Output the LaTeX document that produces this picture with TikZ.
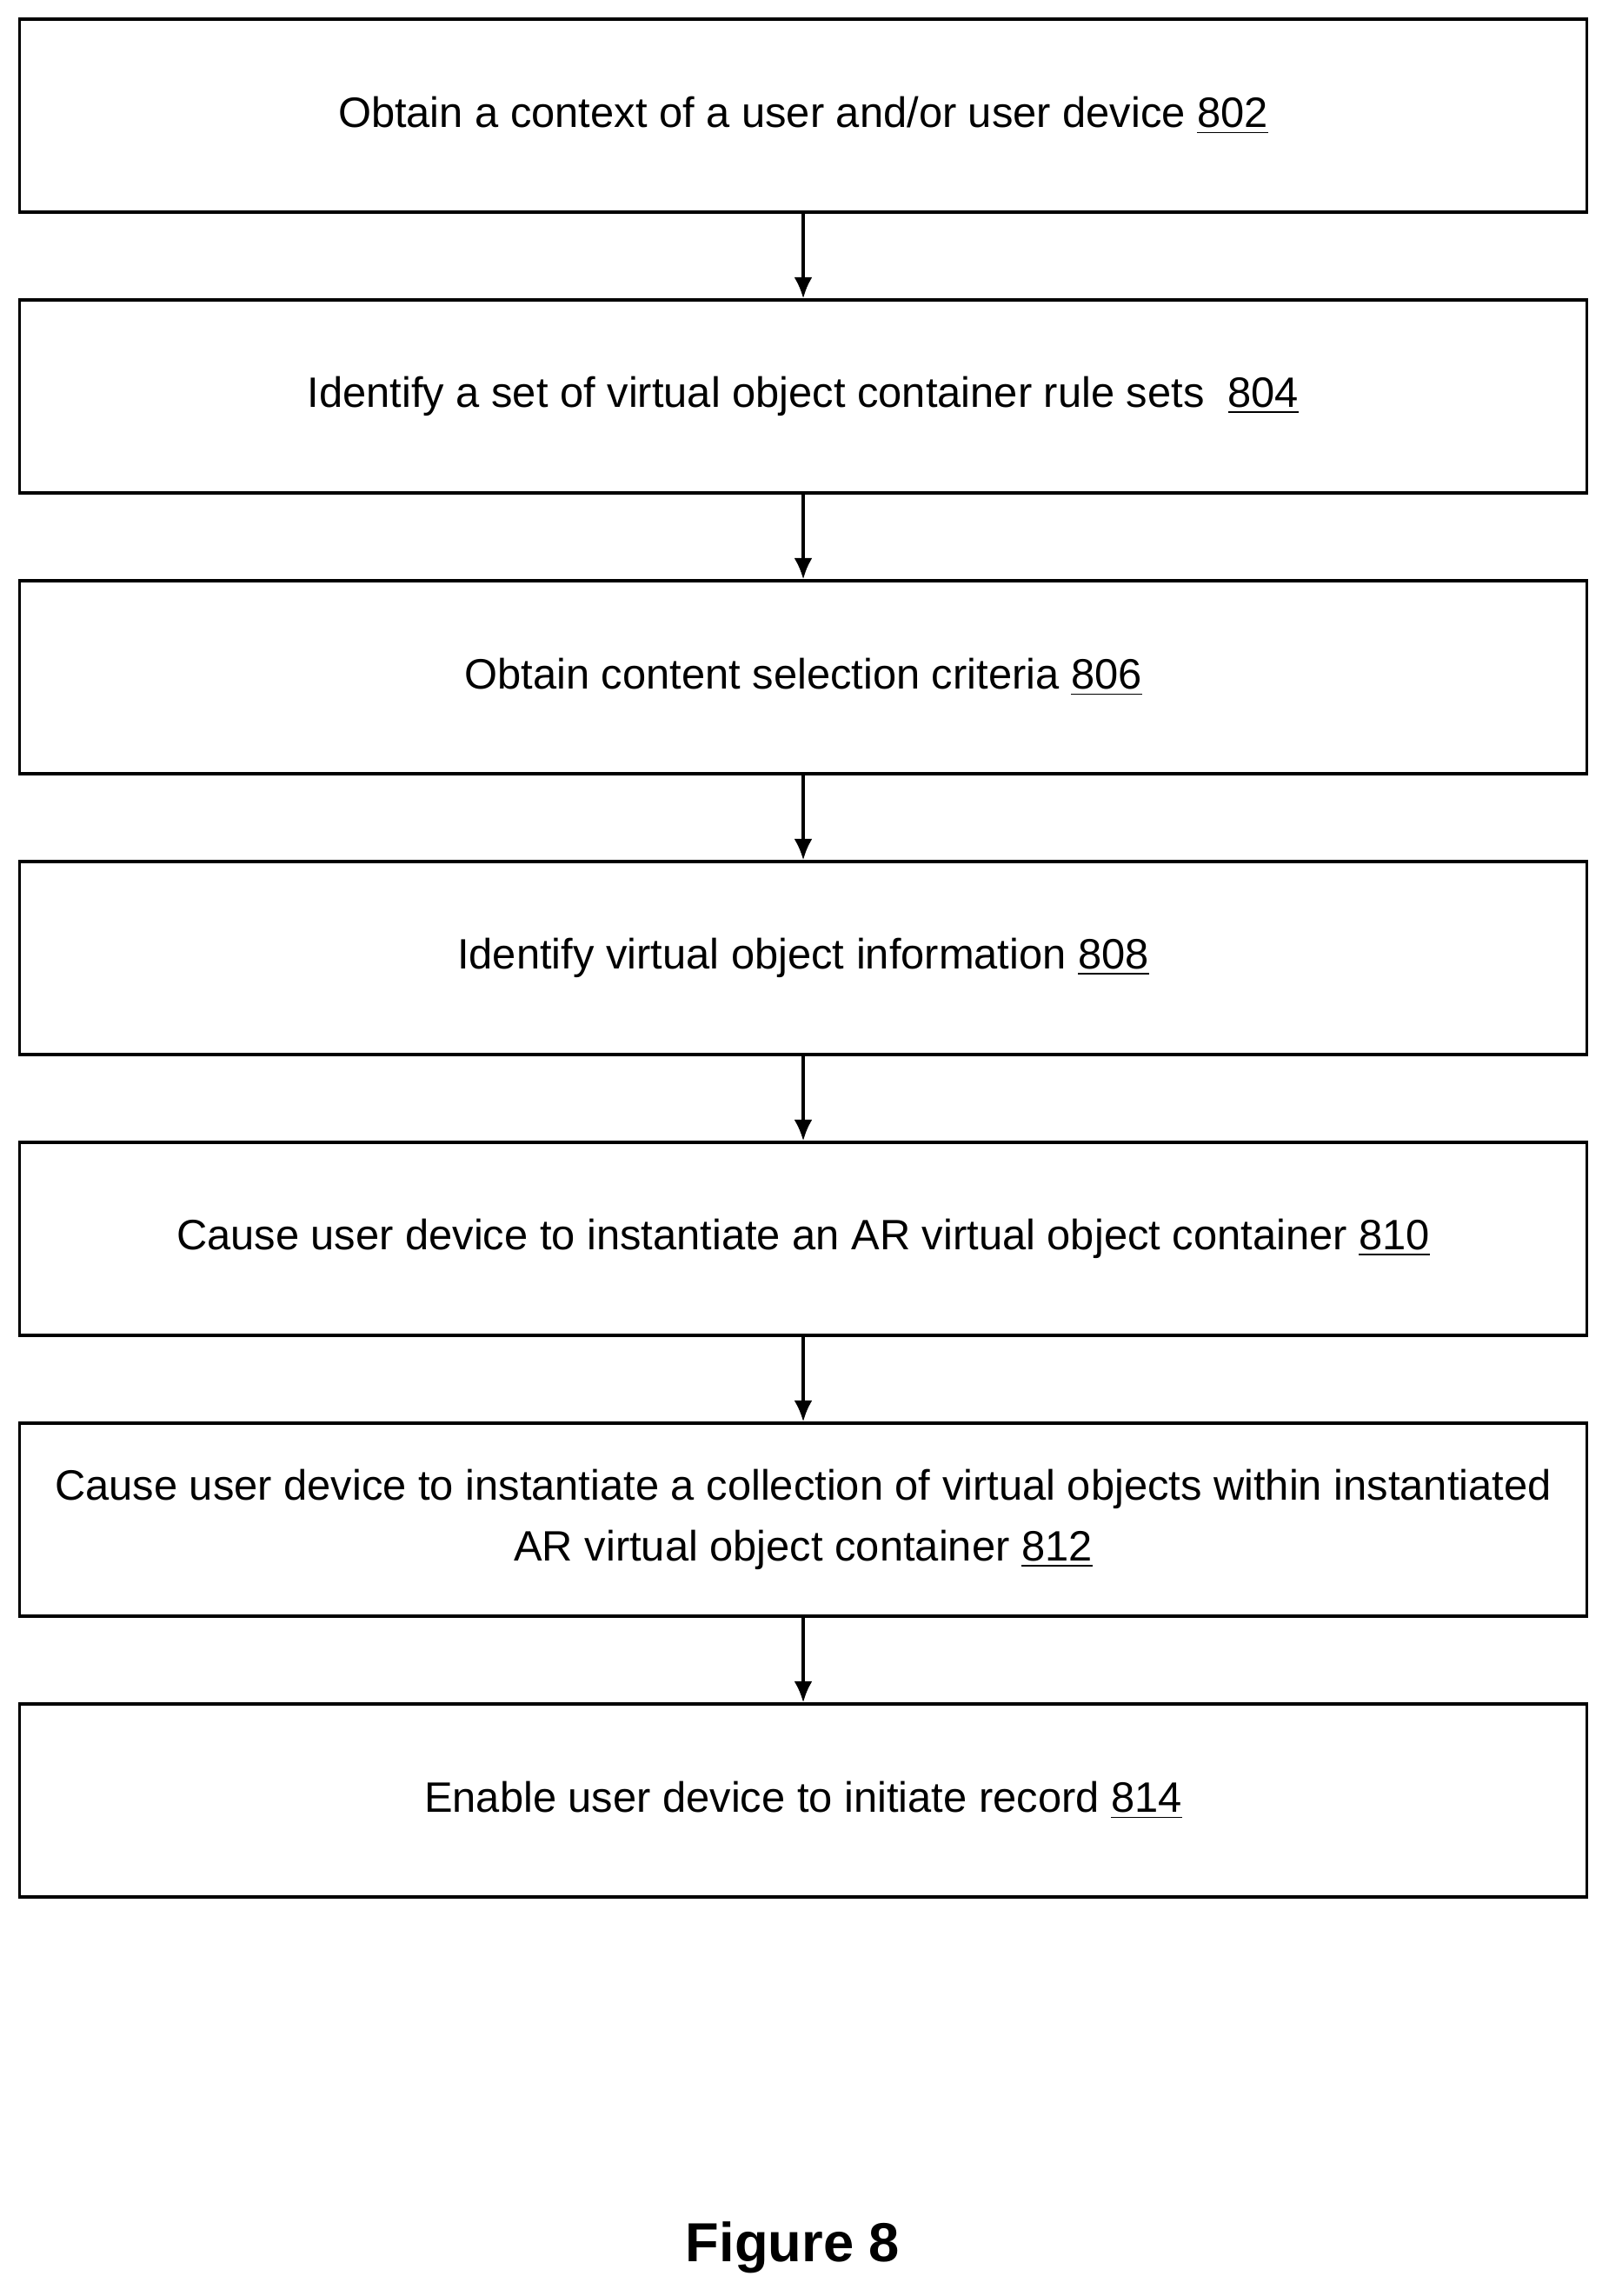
\documentclass[tikz,border=0pt]{standalone}
\usepackage{fontspec}
\setmainfont{Liberation Sans}
\usetikzlibrary{positioning,arrows.meta}
\begin{document}
\begin{tikzpicture}
	\tikzset{etape/.style={draw=black, line width=0.9pt, minimum width=18.03cm, minimum height=2.22cm, align=center, font=\fontsize{13.9}{20}\selectfont, inner sep=0pt}, fleche/.style={-{Latex[length=7pt,width=6pt]}, line width=1.1pt}};
	\useasboundingbox (0,0) rectangle (18.5,-26.41);

	\node[etape] (e802) at (9.24,-1.33) {Obtain a context of a user and/or user device \underline{802}};
	\node[etape] (e804) at (9.24,-4.56) {Identify a set of virtual object container rule sets~~\underline{804}};
	\node[etape] (e806) at (9.24,-7.79) {Obtain content selection criteria \underline{806}};
	\node[etape] (e808) at (9.24,-11.02) {Identify virtual object information \underline{808}};
	\node[etape] (e810) at (9.24,-14.25) {Cause user device to instantiate an AR virtual object container \underline{810}};
	\node[etape] (e812) at (9.24,-17.48) {Cause user device to instantiate a collection of virtual objects within instantiated\\AR virtual object container \underline{812}};
	\node[etape] (e814) at (9.24,-20.71) {Enable user device to initiate record \underline{814}};

	\node[font=\fontsize{18}{20}\selectfont\bfseries] (titre) at (9.12,-25.85) {Figure 8};

	\draw[fleche] (e802) -- (e804);
	\draw[fleche] (e804) -- (e806);
	\draw[fleche] (e806) -- (e808);
	\draw[fleche] (e808) -- (e810);
	\draw[fleche] (e810) -- (e812);
	\draw[fleche] (e812) -- (e814);
\end{tikzpicture}
\end{document}
